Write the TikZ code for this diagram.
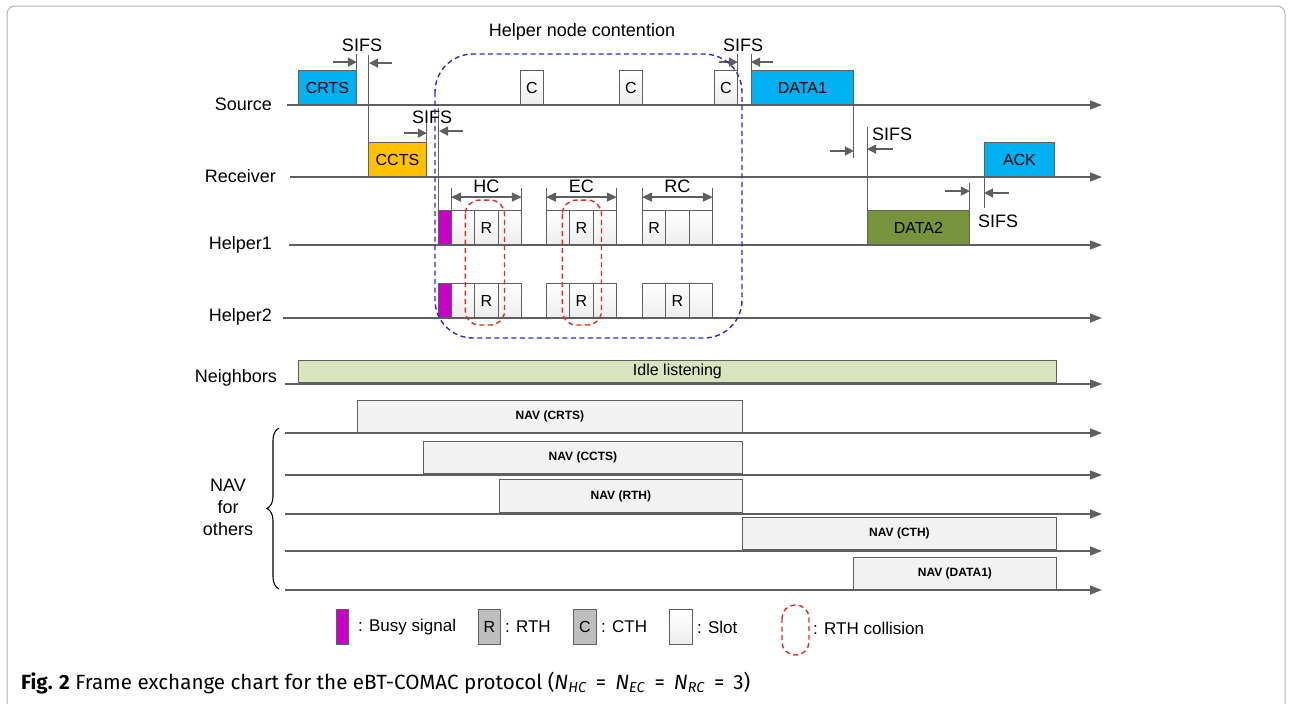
\documentclass[tikz,border=0pt]{standalone}
\usepackage{fontspec}
\setmainfont{Liberation Sans}
\newfontfamily\capfont{Fira Sans}
\usetikzlibrary{arrows.meta,positioning,decorations.pathreplacing}

\definecolor{linegray}{RGB}{95,95,95}
\definecolor{crtsblue}{RGB}{0,176,240}
\definecolor{ctsorange}{RGB}{255,192,0}
\definecolor{datagreen}{RGB}{119,147,60}
\definecolor{idlegreen}{RGB}{215,228,189}
\definecolor{busymag}{RGB}{200,0,200}
\definecolor{navgray}{RGB}{242,242,242}
\definecolor{rthgray}{RGB}{190,190,190}
\definecolor{contblue}{RGB}{40,40,210}
\definecolor{collred}{RGB}{228,40,40}
\newcommand{\capeq}{\hspace{9pt}=\hspace{9pt}}

\begin{document}
\begin{tikzpicture}[
  x=1pt, y=-1pt,
  font=\fontsize{18}{22}\selectfont,
  rowlab/.style={anchor=east, inner sep=0pt},
  axis/.style={draw=linegray, line width=1.3pt, -{Triangle[length=12pt, width=9pt]}},
  pktbox/.style={draw=linegray, line width=0.9pt, anchor=south west, minimum height=34pt,
    inner sep=0pt, font=\fontsize{16}{18}\selectfont},
  slot/.style={pktbox, minimum width=23.3pt, top color=white, bottom color=gray!14},
  busy/.style={pktbox, minimum width=13pt, fill=busymag},
  navbox/.style={draw=linegray, line width=0.9pt, fill=navgray, anchor=south west,
    minimum height=32pt, inner sep=0pt, font=\fontsize{12}{14}\selectfont\bfseries},
  sifsline/.style={draw=linegray, line width=1pt},
  sifsarrow/.style={draw=linegray, line width=1.4pt, -{Triangle[length=9pt, width=9pt]}},
  dimarrow/.style={draw=linegray, line width=1.3pt, {Triangle[length=10pt, width=9pt]}-{Triangle[length=10pt, width=9pt]}},
  contend/.style={draw=contblue, line width=1.4pt, dash pattern=on 5pt off 3.5pt, rounded corners=38pt},
  collide/.style={draw=collred, line width=1.4pt, dash pattern=on 5pt off 3.5pt, rounded corners=14pt},
  legtext/.style={anchor=west, inner sep=0pt, font=\fontsize{17}{20}\selectfont}
]
\useasboundingbox (0,0) rectangle (1291,704);
\draw[gray!60, line width=1pt, rounded corners=8pt] (7,730) -- (7,6) -- (1285,6) -- (1285,730);

% time lines
\node[rowlab] (source) at (272,104) {Source};
\node[rowlab] (receiver) at (276,176) {Receiver};
\node[rowlab] (helper1) at (272,245) {Helper1};
\node[rowlab] (helper2) at (272,317) {Helper2};
\node[rowlab] (neigh) at (277,378) {Neighbors};
\draw[axis] (287,105) -- (1102,105);
\draw[axis] (290,177) -- (1102,177);
\draw[axis] (289,245) -- (1102,245);
\draw[axis] (283,318) -- (1102,318);
\draw[axis] (285,384) -- (1102,384);
\foreach \yy in {433,475,514,551,590}
  \draw[axis] (285,\yy) -- (1102,\yy);

% frames
\node[pktbox, fill=crtsblue, minimum width=58pt] (crts) at (298,105) {CRTS};
\node[pktbox, fill=ctsorange, minimum width=58pt] (ccts) at (368,177) {CCTS};
\node[slot, minimum width=23pt] (c1) at (520,105) {C};
\node[slot, minimum width=23pt] (c2) at (619,105) {C};
\node[slot, minimum width=23pt] (c3) at (714,105) {C};
\node[pktbox, fill=crtsblue, minimum width=102pt] (data1) at (751,105) {DATA1};
\node[pktbox, fill=datagreen, minimum width=102pt] (data2) at (867,245) {DATA2};
\node[pktbox, fill=crtsblue, minimum width=70pt] (ack) at (984,177) {ACK};

% helper slots
\node[busy] (busy1) at (438,245) {};
\node[busy] (busy2) at (438,318) {};
\foreach \g/\gx/\ta/\tb/\tc/\ua/\ub/\uc in {hc/451/{}/R/{}/{}/R/{}, ec/546/{}/R/{}/{}/R/{}, rc/642/R/{}/{}/{}/R/{}} {
  \node[slot] (h1\g1) at (\gx,245) {\ta};
  \node[slot] (h1\g2) at (\gx+23.3,245) {\tb};
  \node[slot] (h1\g3) at (\gx+46.6,245) {\tc};
  \node[slot] (h2\g1) at (\gx,318) {\ua};
  \node[slot] (h2\g2) at (\gx+23.3,318) {\ub};
  \node[slot] (h2\g3) at (\gx+46.6,318) {\uc};
}
\foreach \g/\lab in {hc/HC, ec/EC, rc/RC} {
  \draw[sifsline] (h1\g1.north west) -- ++(0,-22);
  \draw[sifsline] (h1\g3.north east) -- ++(0,-22);
  \draw[dimarrow] ([shift={(0,-13)}]h1\g1.north west) --
    node[above=0pt] {\lab} ([shift={(0,-13)}]h1\g3.north east);
}

% SIFS gaps
\draw[sifsline] (crts.north east) -- ++(0,-16);
\draw[sifsline] (ccts.north west) -- ++(0,-87);
\draw[sifsarrow] ([shift={(-24,-8)}]crts.north east) -- ([shift={(0,-8)}]crts.north east);
\draw[sifsarrow] ([shift={(24,-79)}]ccts.north west) -- ([shift={(1,-79)}]ccts.north west);
\node (sifs1) at (362,45) {SIFS};

\draw[sifsline] (ccts.north east) -- ++(0,-32);
\draw[sifsline] (busy1.north west) -- ++(0,-102);
\draw[sifsarrow] ([shift={(-23,-9)}]ccts.north east) -- ([shift={(0,-9)}]ccts.north east);
\draw[sifsarrow] ([shift={(25,-79)}]busy1.north west) -- ([shift={(1,-79)}]busy1.north west);
\node (sifs2) at (432,117) {SIFS};

\draw[sifsline] (c3.north east) -- ++(0,-16);
\draw[sifsline] (data1.north west) -- ++(0,-16);
\draw[sifsarrow] ([shift={(-19,-8)}]c3.north east) -- ([shift={(0,-8)}]c3.north east);
\draw[sifsarrow] ([shift={(22,-8)}]data1.north west) -- ([shift={(0,-8)}]data1.north west);
\node (sifs3) at (743,45) {SIFS};

\draw[sifsline] (data1.south east) -- ++(0,53);
\draw[sifsline] (data2.north west) -- ++(0,-83);
\draw[sifsarrow] ([shift={(-24,46)}]data1.south east) -- ([shift={(0,46)}]data1.south east);
\draw[sifsarrow] ([shift={(26,-61)}]data2.north west) -- ([shift={(0,-61)}]data2.north west);
\node (sifs4) at (892,134) {SIFS};

\draw[sifsline] (data2.north east) -- ++(0,-27);
\draw[sifsline] (ack.south west) -- ++(0,31);
\draw[sifsarrow] ([shift={(-25,-19)}]data2.north east) -- ([shift={(0,-19)}]data2.north east);
\draw[sifsarrow] ([shift={(25,16)}]ack.south west) -- ([shift={(0,16)}]ack.south west);
\node (sifs5) at (998,221) {SIFS};

% contention and collisions
\draw[contend] (435,54) rectangle (742,338);
\node (hnc) at (582,32) {Helper node contention};
\draw[collide] ([shift={(-9,-10)}]h1hc2.north west) rectangle ([shift={(6,7)}]h2hc2.south east);
\draw[collide] ([shift={(-7,-10)}]h1ec2.north west) rectangle ([shift={(8,7)}]h2ec2.south east);

% neighbors and NAV
\node[pktbox, fill=idlegreen, minimum width=758pt, minimum height=22pt] (idle) at (298,383) {Idle listening};
\node[navbox, minimum width=385pt] (navcrts) at (357,433) {NAV (CRTS)};
\node[navbox, minimum width=319pt] (navccts) at (423,474) {NAV (CCTS)};
\node[navbox, minimum width=243pt, minimum height=33pt] (navrth) at (499,513) {NAV (RTH)};
\node[navbox, minimum width=314pt] (navcth) at (742,550) {NAV (CTH)};
\node[navbox, minimum width=203pt] (navdata) at (853,590) {NAV (DATA1)};
\draw[line width=1.1pt, decorate, decoration={brace, amplitude=12pt}] (279,589) -- (279,428);
\node[align=center, inner sep=0pt] (navlab) at (228,507) {NAV\\for\\others};

% legend
\node[busy, minimum width=12pt, minimum height=35pt] (legbusy) at (336,645) {};
\node[legtext, right=9pt of legbusy] (legbusyt) {: Busy signal};
\node[pktbox, fill=rthgray, minimum width=22pt, minimum height=35pt] (legr) at (478,645) {R};
\node[legtext, right=4pt of legr] (legrt) {: RTH};
\node[pktbox, fill=rthgray, minimum width=23pt, minimum height=35pt] (legc) at (573,645) {C};
\node[legtext, right=4pt of legc] (legct) {: CTH};
\node[slot, minimum width=23pt, minimum height=35pt] (legslot) at (669,645) {};
\node[legtext, right=4pt of legslot] (legslott) {: Slot};
\draw[collide, rounded corners=13pt] (782,605) rectangle (809,655);
\node[legtext] (legcoll) at (813,628) {: RTH collision};

% caption
\node[anchor=west, inner sep=0pt, font=\capfont\fontsize{20.6}{24}\selectfont] (caption) at (21,683)
  {\textbf{Fig. 2} Frame exchange chart for the eBT-COMAC protocol (\textit{N}\textsubscript{\textit{HC}}\capeq\textit{N}\textsubscript{\textit{EC}}\capeq\textit{N}\textsubscript{\textit{RC}}\capeq3)};
\end{tikzpicture}
\end{document}
